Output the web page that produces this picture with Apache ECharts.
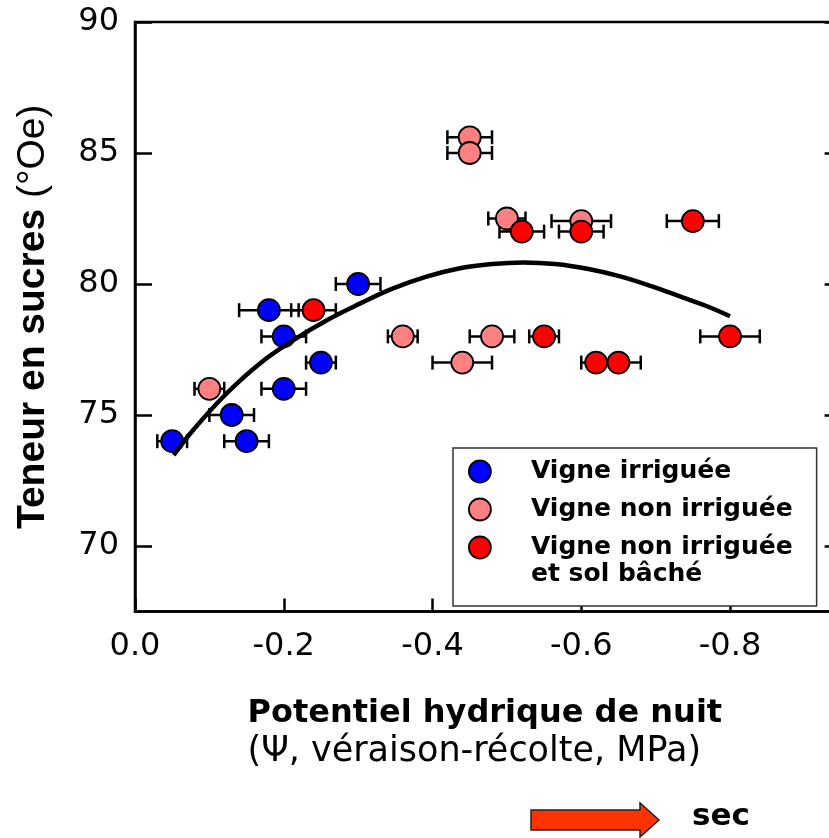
<!DOCTYPE html>
<html>
<head>
<meta charset="utf-8">
<script src="https://cdn.jsdelivr.net/npm/echarts@6/dist/echarts.min.js"></script>
<style>
  html, body { margin: 0; padding: 0; background: #fff; overflow: hidden; }
  #chart { width: 829px; height: 838px; }
</style>
</head>
<body>
<div id="chart"></div>
<script>
// ---- Data ----
const seriesNames = ['Vigne irriguée', 'Vigne non irriguée', 'Vigne non irriguée et sol bâché'];
const legendLine3 = ['Vigne non irriguée', 'et sol bâché'];

// Vigne irriguée
const irrigX   = [-0.05, -0.13, -0.15, -0.18, -0.20, -0.20, -0.25, -0.30];
const irrigY   = [74, 75, 74, 79, 78, 76, 77, 80];
const irrigErr = [0.02, 0.03, 0.03, 0.04, 0.03, 0.03, 0.02, 0.03];

// Vigne non irriguée
const nonIrrigX   = [-0.10, -0.36, -0.44, -0.45, -0.45, -0.48, -0.50, -0.60];
const nonIrrigY   = [76, 78, 77, 85.6, 85, 78, 82.5, 82.4];
const nonIrrigErr = [0.02, 0.02, 0.04, 0.03, 0.03, 0.03, 0.025, 0.04];

// Vigne non irriguée et sol bâché
const bacheX   = [-0.24, -0.52, -0.55, -0.60, -0.62, -0.65, -0.75, -0.80];
const bacheY   = [79, 82, 78, 82, 77, 77, 82.4, 78];
const bacheErr = [0.03, 0.03, 0.02, 0.03, 0.02, 0.03, 0.035, 0.04];

// Fitted curve, points
const curveX = [-0.052, -0.078, -0.123, -0.168, -0.213, -0.258, -0.303, -0.347, -0.392, -0.437, -0.480, -0.522, -0.565, -0.608, -0.651, -0.694, -0.737, -0.769, -0.800];
const curveY = [73.47, 74.42, 75.82, 76.97, 77.86, 78.62, 79.26, 79.83, 80.28, 80.60, 80.76, 80.82, 80.76, 80.58, 80.30, 79.92, 79.48, 79.15, 78.77];

// Axes
const xTicks = [0, -0.2, -0.4, -0.6, -0.8];
const yTicks = [70, 75, 80, 85, 90];
const xTitle = 'Potentiel hydrique de nuit';
const xSubtitle = '(Ψ, véraison-récolte, MPa)';
const yTitleBold = 'Teneur en sucres';
const yTitleUnit = '(°Oe)';
const dryLabel = 'sec';

// ---- Build ----
const colors = ['#0000FF', '#FF8080', '#FF0000'];
const groups = [
  [irrigX, irrigY, irrigErr],
  [nonIrrigX, nonIrrigY, nonIrrigErr],
  [bacheX, bacheY, bacheErr]
];

function zip(xs, ys, es) {
  return xs.map((x, i) => es ? [x, ys[i], es[i]] : [x, ys[i]]);
}

function errorBarRender(params, api) {
  const x = api.value(0), y = api.value(1), e = api.value(2);
  const p1 = api.coord([x - e, y]);
  const p2 = api.coord([x + e, y]);
  const c = 7;
  const st = { stroke: '#000', lineWidth: 2.5 };
  return {
    type: 'group',
    children: [
      { type: 'line', shape: { x1: p1[0], y1: p1[1], x2: p2[0], y2: p2[1] }, style: st },
      { type: 'line', shape: { x1: p1[0], y1: p1[1] - c, x2: p1[0], y2: p1[1] + c }, style: st },
      { type: 'line', shape: { x1: p2[0], y1: p2[1] - c, x2: p2[0], y2: p2[1] + c }, style: st }
    ]
  };
}

const series = [];
groups.forEach((g, i) => {
  series.push({
    type: 'custom',
    name: 'err' + i,
    renderItem: errorBarRender,
    data: zip(g[0], g[1], g[2]),
    encode: { x: 0, y: 1 },
    clip: false,
    silent: true
  });
  series.push({
    type: 'scatter',
    name: seriesNames[i],
    data: zip(g[0], g[1]),
    symbol: 'circle',
    symbolSize: 22,
    itemStyle: { color: colors[i], borderColor: '#000', borderWidth: 1.8, opacity: 1 }
  });
});
series.push({
  type: 'line',
  name: 'fit',
  data: zip(curveX, curveY),
  smooth: 0.4,
  showSymbol: false,
  symbol: 'none',
  lineStyle: { color: '#000', width: 4.5 },
  z: 5
});

const axisLineStyle = { color: '#000', width: 2.5 };

const chart = echarts.init(document.getElementById('chart'), null, { renderer: 'canvas' });
chart.setOption({
  animation: false,
  backgroundColor: '#fff',
  grid: {
    left: 135, top: 22, width: 706.6, height: 589.5,
    outerBoundsMode: 'none',
    containLabel: false,
    show: true, borderColor: '#000', borderWidth: 2.5, backgroundColor: 'transparent'
  },
  xAxis: {
    type: 'value', inverse: true, min: -0.95, max: 0,
    axisLine: { show: true, onZero: false, lineStyle: axisLineStyle },
    axisTick: { show: true, inside: true, length: 13, customValues: xTicks, lineStyle: axisLineStyle },
    axisLabel: {
      customValues: xTicks, margin: 19,
      fontFamily: 'DejaVu Sans', fontSize: 32, color: '#000',
      formatter: v => (Math.abs(v) < 1e-9 ? '0.0' : v.toFixed(1))
    },
    splitLine: { show: false },
    name: '{b|' + xTitle + '}\n{r|' + xSubtitle + '}',
    nameLocation: 'middle',
    nameGap: 84,
    nameTextStyle: {
      rich: {
        b: { fontFamily: 'DejaVu Sans', fontWeight: 'bold', fontSize: 32, color: '#000', lineHeight: 37, padding: [0, 7, 0, 0], align: 'center' },
        r: { fontFamily: 'DejaVu Sans', fontSize: 35, color: '#000', lineHeight: 39, padding: [0, 28, 0, 0], align: 'center' }
      }
    }
  },
  yAxis: [{
    type: 'value', min: 67.5, max: 90, position: 'left',
    axisLine: { show: true, onZero: false, lineStyle: axisLineStyle },
    axisTick: { show: true, inside: true, length: 17, customValues: yTicks, lineStyle: axisLineStyle },
    axisLabel: { customValues: yTicks, margin: 16, fontFamily: 'DejaVu Sans', fontSize: 32, color: '#000' },
    splitLine: { show: false },
    name: '{b|' + yTitleBold + '}{r| ' + yTitleUnit + '}',
    nameLocation: 'middle',
    nameGap: 82,
    nameTextStyle: {
      rich: {
        b: { fontFamily: 'Liberation Sans', fontWeight: 'bold', fontSize: 39, color: '#000', lineHeight: 40 },
        r: { fontFamily: 'Liberation Sans', fontSize: 39, color: '#000', lineHeight: 40 }
      }
    }
  }, {
    type: 'value', min: 67.5, max: 90, position: 'right',
    axisLine: { show: true, onZero: false, lineStyle: axisLineStyle },
    axisTick: { show: true, inside: true, length: 17, customValues: yTicks, lineStyle: axisLineStyle },
    axisLabel: { show: false },
    splitLine: { show: false }
  }],
  legend: {
    orient: 'vertical',
    left: 453, top: 448,
    padding: [11, 24, 46, 15],
    itemGap: 13, itemWidth: 22, itemHeight: 22,
    borderColor: '#333', borderWidth: 1.5, backgroundColor: '#fff',
    selectedMode: false,
    data: seriesNames,
    itemStyle: { borderColor: '#000', borderWidth: 1.8 },
    formatter: n => (n === seriesNames[2] ? legendLine3[0] : n),
    textStyle: {
      fontFamily: 'DejaVu Sans', fontWeight: 'bold', fontSize: 25, color: '#000',
      lineHeight: 22, padding: [0, 0, 0, 35]
    }
  },
  graphic: [
    {
      type: 'text', left: 531, top: 562, z: 100,
      style: { text: legendLine3[1], font: 'bold 25px "DejaVu Sans"', fill: '#000' }
    },
    {
      type: 'polygon', z: 100,
      shape: { points: [[531, 810], [640, 810], [640, 803], [659, 820], [640, 837], [640, 830], [531, 830]] },
      style: { fill: '#FF3300', stroke: '#222', lineWidth: 1.5 }
    },
    {
      type: 'text', left: 692, top: 801, z: 100,
      style: { text: dryLabel, font: 'bold 31px "DejaVu Sans"', fill: '#000' }
    }
  ],
  series: series
});
</script>
</body>
</html>
